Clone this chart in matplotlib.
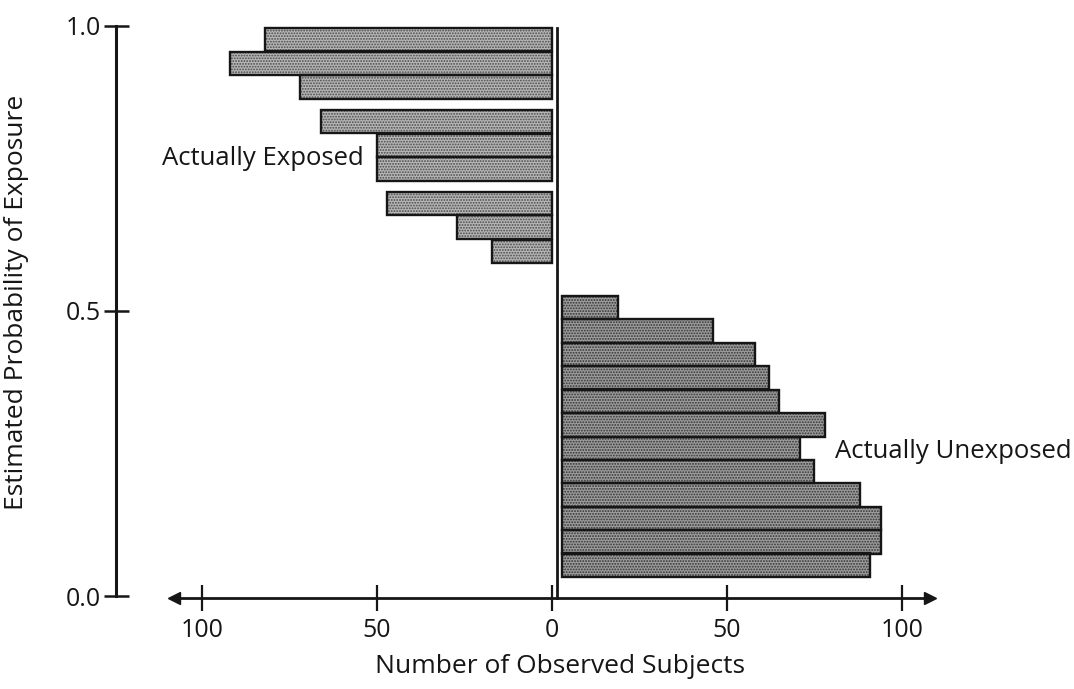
import matplotlib
matplotlib.use("Agg")
import matplotlib.pyplot as plt

# estimated probability bins (bar centres) and counts
exposed_prob = [0.976, 0.934, 0.893, 0.832, 0.790, 0.749, 0.689, 0.647, 0.604]
exposed_count = [82, 92, 72, 66, 50, 50, 47, 27, 17]

unexposed_prob = [0.506, 0.465, 0.424, 0.383, 0.341, 0.300,
                  0.259, 0.218, 0.177, 0.136, 0.095, 0.054]
unexposed_count = [19, 46, 58, 62, 65, 78, 71, 75, 88, 94, 94, 91]

x_ticks = [-100, -50, 0, 50, 100]
x_tick_labels = ["100", "50", "0", "50", "100"]
y_ticks = [0.0, 0.5, 1.0]
y_tick_labels = ["0.0", "0.5", "1.0"]

plt.rcParams["font.family"] = ["Open Sans", "DejaVu Sans"]
plt.rcParams["hatch.linewidth"] = 0.9

ink = "#161616"
W, H = 1074, 689
fig = plt.figure(figsize=(W / 100, H / 100), dpi=100)
# axes box in pixels: left 116, right 940, top 20, bottom 620
ax = fig.add_axes([116 / W, (H - 620) / H, (940 - 116) / W, 600 / H])
ax.set_xlim(-124.57, 110.86)
ax.set_ylim(-0.0421, 1.0105)

bar_h = 0.0412
gap = 2.9

# left side: actually exposed (drawn to the left of zero)
ax.barh(exposed_prob, [-c for c in exposed_count], height=bar_h,
        color="#b6b6b6", hatch="......", edgecolor="#4a4a4a", linewidth=0)
ax.barh(exposed_prob, [-c for c in exposed_count], height=bar_h,
        fill=False, edgecolor=ink, linewidth=1.7)

# right side: actually unexposed
ax.barh(unexposed_prob, [c - gap for c in unexposed_count], left=gap,
        height=bar_h, color="#9c9c9c", hatch="......", edgecolor="#333333",
        linewidth=0)
ax.barh(unexposed_prob, [c - gap for c in unexposed_count], left=gap,
        height=bar_h, fill=False, edgecolor=ink, linewidth=1.7)

# divider at zero
ax.plot([1.4, 1.4], [-0.004, 0.996], color=ink, lw=2)

# axes styling
for s in ["top", "right"]:
    ax.spines[s].set_visible(False)
ax.spines["left"].set_bounds(0, 1)
ax.spines["left"].set_linewidth(2.2)
ax.spines["left"].set_color(ink)
ax.spines["bottom"].set_position(("data", -0.004))
ax.spines["bottom"].set_bounds(-108, 108)
ax.spines["bottom"].set_linewidth(2.0)
ax.spines["bottom"].set_color(ink)

ax.set_yticks(y_ticks)
ax.set_yticklabels(y_tick_labels)
ax.set_xticks(x_ticks)
ax.set_xticklabels(x_tick_labels)
ax.tick_params(axis="y", direction="inout", length=18, width=1.8,
               labelsize=18, pad=2, colors=ink)
ax.tick_params(axis="x", direction="inout", length=19, width=1.6,
               labelsize=18, pad=5, colors=ink)

# arrow heads on the horizontal axis
ax.plot([-108], [-0.004], marker="<", color=ink, ms=9, clip_on=False)
ax.plot([108], [-0.004], marker=">", color=ink, ms=9, clip_on=False)

ax.set_xlabel("Number of Observed Subjects", fontsize=19, color=ink)
ax.xaxis.set_label_coords(0.539, -0.057)
ax.set_ylabel("Estimated Probability of Exposure", fontsize=19, color=ink)
ax.yaxis.set_label_coords(-0.105, 0.53)

ax.text(-111.4, 0.768, "Actually Exposed", fontsize=18.5, va="center",
        ha="left", color=ink)
ax.text(80.9, 0.253, "Actually Unexposed", fontsize=18.5, va="center",
        ha="left", color=ink)

fig.savefig("out.png", dpi=100)
